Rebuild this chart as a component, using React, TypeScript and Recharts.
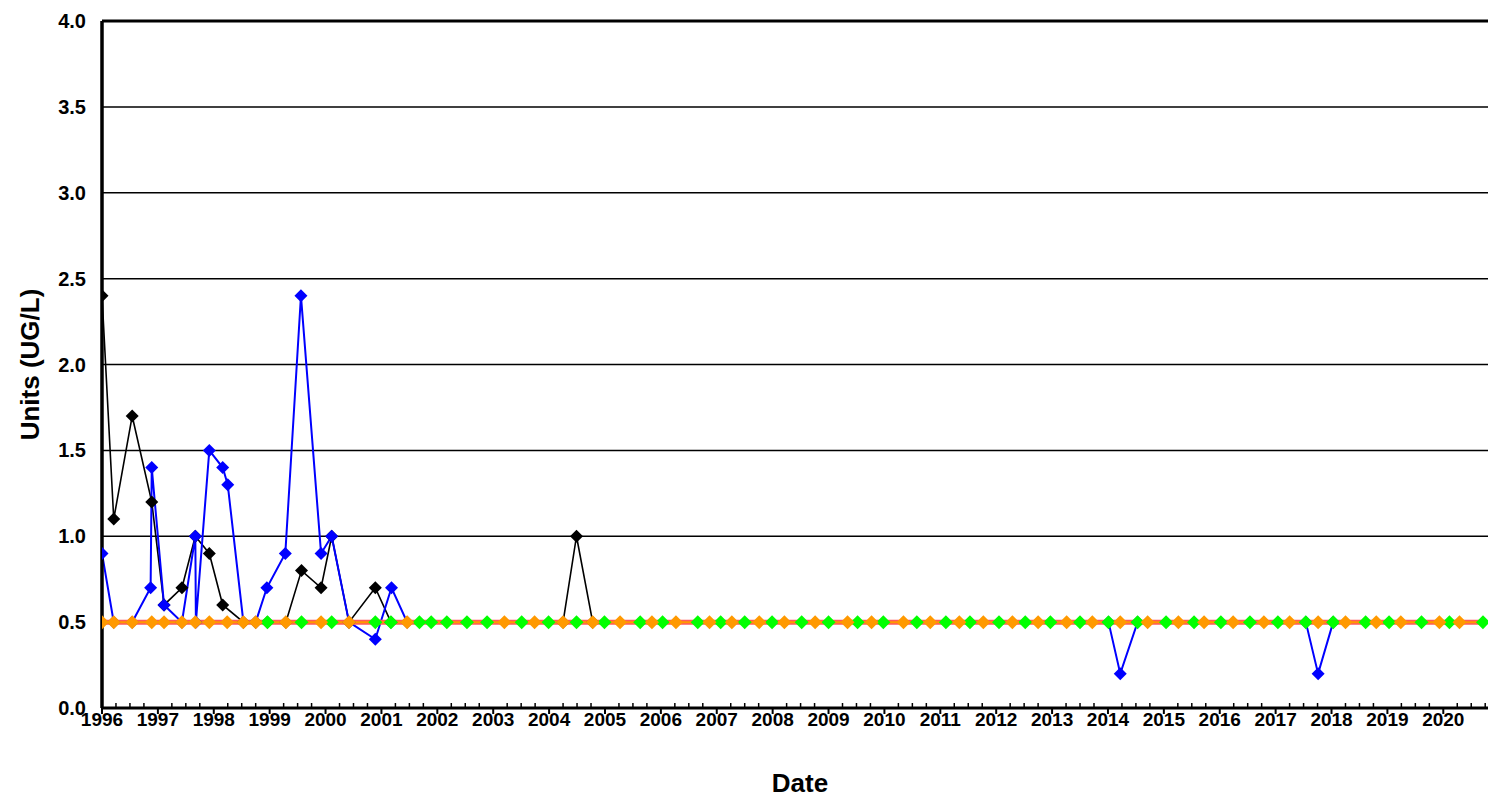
import { LineChart, Line, XAxis, YAxis, CartesianGrid, ReferenceLine } from 'recharts';

// [decimal year, value]
const blackPoints: [number, number][] = [
  [1996.0, 2.4], [1996.21, 1.1], [1996.54, 1.7], [1996.89, 1.2], [1997.11, 0.6], [1997.43, 0.7],
  [1997.67, 1.0], [1997.92, 0.9], [1998.16, 0.6], [1998.53, 0.5], [1998.75, 0.5], [1998.96, 0.5],
  [1999.29, 0.5], [1999.57, 0.8], [1999.92, 0.7], [2000.11, 1.0], [2000.42, 0.5], [2000.89, 0.7],
  [2001.17, 0.5], [2004.25, 0.5], [2004.49, 1.0], [2004.78, 0.5],
];

const bluePoints: [number, number][] = [
  [1996.0, 0.9], [1996.21, 0.5], [1996.54, 0.5], [1996.87, 0.7], [1996.89, 1.4], [1997.11, 0.6],
  [1997.43, 0.5], [1997.67, 1.0], [1997.68, 0.5], [1997.92, 1.5], [1998.16, 1.4], [1998.25, 1.3],
  [1998.53, 0.5], [1998.75, 0.5], [1998.95, 0.7], [1999.28, 0.9], [1999.56, 2.4], [1999.92, 0.9],
  [2000.11, 1.0], [2000.42, 0.5], [2000.89, 0.4], [2001.18, 0.7], [2001.46, 0.5], [2014.01, 0.5],
  [2014.22, 0.2], [2014.53, 0.5], [2017.54, 0.5], [2017.76, 0.2], [2018.03, 0.5],
];

const greenPoints: [number, number][] = [
  [1998.96, 0.5], [1999.57, 0.5], [2000.11, 0.5], [2000.89, 0.5], [2001.17, 0.5], [2001.68, 0.5],
  [2001.89, 0.5], [2002.17, 0.5], [2002.53, 0.5], [2002.89, 0.5], [2003.51, 0.5], [2003.99, 0.5],
  [2004.49, 0.5], [2004.99, 0.5], [2005.63, 0.5], [2006.03, 0.5], [2006.66, 0.5], [2007.07, 0.5],
  [2007.5, 0.5], [2007.99, 0.5], [2008.52, 0.5], [2009.0, 0.5], [2009.52, 0.5], [2009.98, 0.5],
  [2010.58, 0.5], [2011.1, 0.5], [2011.53, 0.5], [2012.05, 0.5], [2012.52, 0.5], [2012.97, 0.5],
  [2013.5, 0.5], [2014.01, 0.5], [2014.53, 0.5], [2015.04, 0.5], [2015.54, 0.5], [2016.02, 0.5],
  [2016.54, 0.5], [2017.04, 0.5], [2017.54, 0.5], [2018.03, 0.5], [2018.61, 0.5], [2019.03, 0.5],
  [2019.61, 0.5], [2020.11, 0.5], [2020.71, 0.5],
];

const orangePoints: [number, number][] = [
  [1996.0, 0.5], [1996.21, 0.5], [1996.54, 0.5], [1996.89, 0.5], [1997.11, 0.5], [1997.43, 0.5],
  [1997.67, 0.5], [1997.92, 0.5], [1998.24, 0.5], [1998.53, 0.5], [1998.75, 0.5], [1999.29, 0.5],
  [1999.92, 0.5], [2000.42, 0.5], [2001.46, 0.5], [2003.2, 0.5], [2003.74, 0.5], [2004.25, 0.5],
  [2004.78, 0.5], [2005.27, 0.5], [2005.84, 0.5], [2006.27, 0.5], [2006.87, 0.5], [2007.27, 0.5],
  [2007.76, 0.5], [2008.21, 0.5], [2008.76, 0.5], [2009.34, 0.5], [2009.77, 0.5], [2010.34, 0.5],
  [2010.82, 0.5], [2011.34, 0.5], [2011.77, 0.5], [2012.29, 0.5], [2012.75, 0.5], [2013.26, 0.5],
  [2013.72, 0.5], [2014.22, 0.5], [2014.71, 0.5], [2015.26, 0.5], [2015.72, 0.5], [2016.24, 0.5],
  [2016.79, 0.5], [2017.25, 0.5], [2017.76, 0.5], [2018.25, 0.5], [2018.8, 0.5], [2019.24, 0.5],
  [2019.93, 0.5], [2020.29, 0.5],
];

const yTicks = [0, 0.5, 1, 1.5, 2, 2.5, 3, 3.5, 4];
const years = [
  1996, 1997, 1998, 1999, 2000, 2001, 2002, 2003, 2004, 2005, 2006, 2007, 2008,
  2009, 2010, 2011, 2012, 2013, 2014, 2015, 2016, 2017, 2018, 2019, 2020,
];
const xDomain: [number, number] = [1996, 2020.8];

const FONT = '"Liberation Sans", Arial, sans-serif';

const toRows = (pts: [number, number][]) => pts.map(([x, y]) => ({ x, y }));
const blackData = toRows(blackPoints);
const blueData = toRows(bluePoints);
const greenData = toRows(greenPoints);
const orangeData = toRows(orangePoints);
const baseData = toRows([...orangePoints, ...greenPoints].sort((a, b) => a[0] - b[0]));

// quarterly ticks, labels only on whole years
const xTicks: number[] = [];
years.forEach((yr) => {
  [0, 0.25, 0.5, 0.75].forEach((q) => {
    if (yr + q <= xDomain[1]) xTicks.push(yr + q);
  });
});

const diamond = (fill: string, r: number) => (p: any) => {
  const { cx, cy, index } = p;
  if (cx == null || cy == null) return <g key={index} />;
  return (
    <path
      key={index}
      d={`M${cx},${cy - r}L${cx + r},${cy}L${cx},${cy + r}L${cx - r},${cy}Z`}
      fill={fill}
    />
  );
};

function XTick(props: any) {
  const { x, y, payload } = props;
  const v = payload.value;
  const major = Math.abs(v - Math.round(v)) < 1e-6;
  return (
    <g>
      {major ? (
        <line x1={x} x2={x} y1={y} y2={y + 6} stroke="#000" strokeWidth={2} />
      ) : (
        <line x1={x} x2={x} y1={y - 5} y2={y} stroke="#000" strokeWidth={1.5} />
      )}
      {major && (
        <text x={x} y={y + 18} textAnchor="middle" fontSize={19} fontWeight="bold" fontFamily={FONT} fill="#000">
          {Math.round(v)}
        </text>
      )}
    </g>
  );
}

function XTitle(props: any) {
  const { viewBox } = props;
  const cx = viewBox.x + viewBox.width / 2 + 5;
  return (
    <text x={cx} y={792} textAnchor="middle" fontSize={26} fontWeight="bold" fontFamily={FONT} fill="#000">
      Date
    </text>
  );
}

function YTitle(props: any) {
  const { viewBox } = props;
  const cx = 30;
  const cy = viewBox.y + viewBox.height / 2;
  return (
    <text
      x={cx}
      y={cy}
      transform={`rotate(-90 ${cx} ${cy})`}
      textAnchor="middle"
      dominantBaseline="central"
      fontSize={26}
      fontWeight="bold"
      fontFamily={FONT}
      fill="#000"
    >
      Units (UG/L)
    </text>
  );
}

export default function App() {
  return (
    <div style={{ position: 'absolute', left: 0, top: 0, background: '#fff' }}>
      <LineChart width={1488} height={799} margin={{ top: 21, right: 0, bottom: 0, left: 0 }}>
        <CartesianGrid horizontal vertical={false} stroke="#000" strokeWidth={1.5} />
        <XAxis
          type="number"
          dataKey="x"
          domain={xDomain}
          ticks={xTicks}
          interval={0}
          allowDataOverflow
          height={91}
          tickLine={false}
          tickSize={0}
          tickMargin={0}
          tick={<XTick />}
          axisLine={{ stroke: '#000', strokeWidth: 3 }}
          label={<XTitle />}
        />
        <YAxis
          type="number"
          domain={[0, 4]}
          ticks={yTicks}
          interval={0}
          width={102}
          tickLine={false}
          tickSize={0}
          tickMargin={16}
          tickFormatter={(v: number) => v.toFixed(1)}
          tick={{ fill: '#000', fontSize: 20, fontWeight: 'bold', fontFamily: FONT }}
          axisLine={{ stroke: '#000', strokeWidth: 3.5 }}
          label={<YTitle />}
        />
        <ReferenceLine y={4} stroke="#000" strokeWidth={3} />
        <Line
          data={blackData}
          dataKey="y"
          stroke="#000"
          strokeWidth={1.6}
          dot={diamond('#000', 6.5)}
          activeDot={false}
          isAnimationActive={false}
        />
        <Line
          data={blueData}
          dataKey="y"
          stroke="#0000ff"
          strokeWidth={2}
          dot={diamond('#0000ff', 6.5)}
          activeDot={false}
          isAnimationActive={false}
        />
        <Line
          data={baseData}
          dataKey="y"
          stroke="#ff5a5a"
          strokeWidth={5}
          dot={false}
          activeDot={false}
          isAnimationActive={false}
        />
        <Line
          data={baseData}
          dataKey="y"
          stroke="#ff9900"
          strokeWidth={2}
          dot={false}
          activeDot={false}
          isAnimationActive={false}
        />
        <Line
          data={greenData}
          dataKey="y"
          stroke="none"
          dot={diamond('#00ff00', 7)}
          activeDot={false}
          isAnimationActive={false}
        />
        <Line
          data={orangeData}
          dataKey="y"
          stroke="none"
          dot={diamond('#ff9900', 7)}
          activeDot={false}
          isAnimationActive={false}
        />
      </LineChart>
    </div>
  );
}
